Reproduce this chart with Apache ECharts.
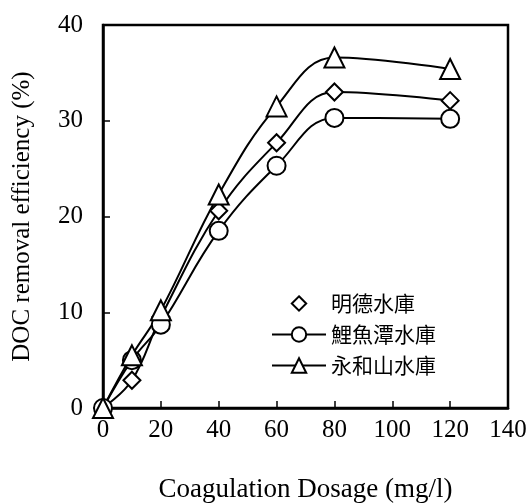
<!DOCTYPE html>
<html>
<head>
<meta charset="utf-8">
<script src="https://cdn.jsdelivr.net/npm/echarts@6/dist/echarts.min.js"></script>
<style>html,body{margin:0;padding:0;background:#fff}#c{width:532px;height:504px}</style>
</head>
<body>
<div id="c"></div>
<script>
const dosage = [0, 10, 20, 40, 60, 80, 120];
const mingde = [0, 2.9, 9.5, 20.6, 27.7, 33.0, 32.1];
const liyutan = [0, 5.0, 8.7, 18.5, 25.3, 30.3, 30.2];
const yonghe = [0, 5.5, 10.2, 22.3, 31.5, 36.6, 35.4];
const seriesNames = ['明德水庫', '鯉魚潭水庫', '永和山水庫'];
const xTicks = [0, 20, 40, 60, 80, 100, 120, 140];
const yTicks = [0, 10, 20, 30, 40];

const serif = 'Liberation Serif';
const cjk = 'Noto Sans CJK TC';
const pair = arr => dosage.map((d, i) => [d, arr[i]]);

const mk = (name, data, symbol, size) => ({
  name, type: 'line', data: pair(data), symbol, symbolSize: size,
  smooth: 0.4,
  lineStyle: { color: '#000', width: 2 },
  itemStyle: { color: '#fff', borderColor: '#000', borderWidth: 2 },
  emphasis: { disabled: true }, animation: false
});

const chart = echarts.init(document.getElementById('c'));
chart.setOption({
  animation: false,
  backgroundColor: '#fff',
  grid: { left: 103, right: 24, top: 25, bottom: 96, containLabel: false, outerBoundsMode: 'none',
          show: true, borderColor: '#000', borderWidth: 2.5, backgroundColor: 'transparent' },
  legend: {
    orient: 'vertical', left: 266, top: 288, itemWidth: 54, itemHeight: 18, itemGap: 10,
    textStyle: { fontFamily: cjk, fontSize: 21, color: '#000' },
    data: [
      { name: seriesNames[0], lineStyle: { opacity: 0 } },
      { name: seriesNames[1] },
      { name: seriesNames[2] }
    ]
  },
  xAxis: {
    type: 'value', min: xTicks[0], max: xTicks[xTicks.length - 1], interval: 20,
    name: 'Coagulation Dosage (mg/l)', nameLocation: 'middle', nameGap: 68,
    nameTextStyle: { fontFamily: serif, fontSize: 27, color: '#000' },
    axisLine: { lineStyle: { color: '#000', width: 2.5 } },
    axisTick: { inside: true, length: 7, lineStyle: { color: '#000', width: 1.5 } },
    axisLabel: { fontFamily: serif, fontSize: 25, color: '#000', margin: 10 },
    splitLine: { show: false }
  },
  yAxis: {
    type: 'value', min: yTicks[0], max: yTicks[yTicks.length - 1], interval: 10,
    name: 'DOC removal efficiency (%)', nameLocation: 'middle', nameGap: 68,
    nameTextStyle: { fontFamily: serif, fontSize: 25, color: '#000' },
    axisLine: { lineStyle: { color: '#000', width: 2.5 } },
    axisTick: { inside: true, length: 7, lineStyle: { color: '#000', width: 1.5 } },
    axisLabel: { fontFamily: serif, fontSize: 25, color: '#000', margin: 20 },
    splitLine: { show: false }
  },
  series: [
    mk(seriesNames[0], mingde, 'diamond', 17),
    mk(seriesNames[1], liyutan, 'circle', 18),
    mk(seriesNames[2], yonghe, 'triangle', 20)
  ]
});
</script>
</body>
</html>
